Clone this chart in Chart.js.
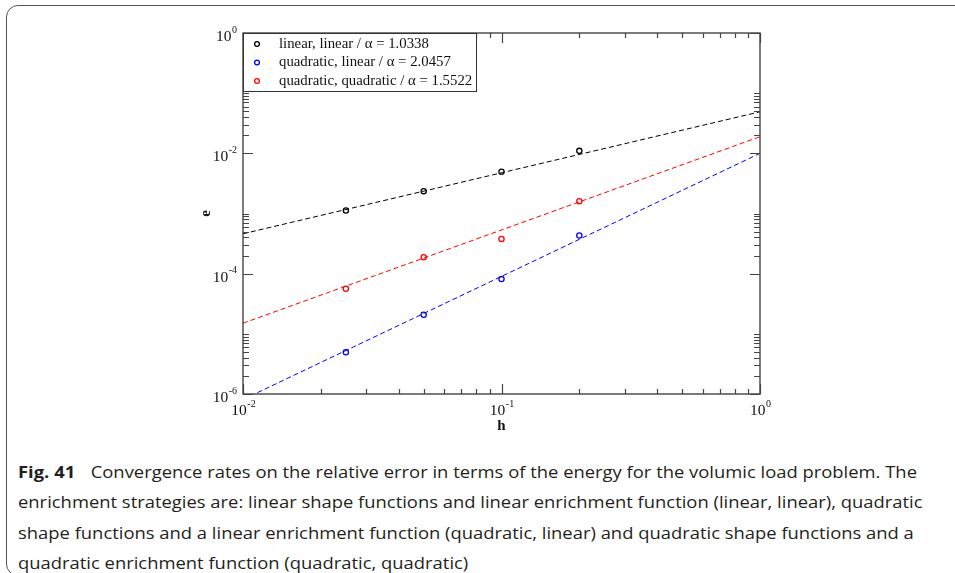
<!DOCTYPE html>
<html><head><meta charset="utf-8">
<script src="https://cdn.jsdelivr.net/npm/chart.js@4.4.0/dist/chart.umd.min.js"></script>
<style>
html,body{margin:0;padding:0;background:#fff;width:955px;height:573px;overflow:hidden;position:relative}
#frame{position:absolute;left:6px;top:5px;width:1000px;height:571px;border:1.5px solid #555;border-radius:12px;box-sizing:border-box}
#wrap{position:absolute;left:0;top:0;width:955px;height:450px}
#cap{position:absolute;left:18px;top:457px;font-family:'Open Sans',sans-serif;font-size:16.6px;line-height:30.3px;color:#231f20;white-space:nowrap}
#cap .ln{height:30.3px}
#cap .ln span{display:inline-block;transform-origin:0 50%}
#cap b{font-weight:700;margin-right:14px}
</style></head><body>
<div id="frame"></div>
<div id="wrap"><canvas id="c" width="955" height="450"></canvas></div>
<div id="cap">
<div class="ln"><span><b>Fig. 41</b>Convergence rates on the relative error in terms of the energy for the volumic load problem. The</span></div>
<div class="ln"><span>enrichment strategies are: linear shape functions and linear enrichment function (linear, linear), quadratic</span></div>
<div class="ln"><span>shape functions and a linear enrichment function (quadratic, linear) and quadratic shape functions and a</span></div>
<div class="ln"><span>quadratic enrichment function (quadratic, quadratic)</span></div>
</div>
<script>
// ---- data ----
const hValues = [0.025, 0.05, 0.1, 0.2];
const errLinLin = [1.12e-3, 2.35e-3, 4.93e-3, 1.10e-2];
const errQuadLin = [4.93e-6, 2.07e-5, 8.13e-5, 4.30e-4];
const errQuadQuad = [5.62e-5, 1.87e-4, 3.78e-4, 1.60e-3];
const fitH = [0.01, 1];
const fitLinLin = [4.6e-4, 4.9e-2];
const fitQuadLin = [8.1e-7, 1.0e-2];
const fitQuadQuad = [1.5e-5, 1.89e-2];
const seriesLabels = ['linear, linear / \u03b1 = 1.0338', 'quadratic, linear / \u03b1 = 2.0457', 'quadratic, quadratic / \u03b1 = 1.5522'];
const seriesColors = ['#000000', '#0000ff', '#ff0000'];
const xMajorTicks = [0.01, 0.1, 1];
const xMinorTicks = [0.02,0.03,0.04,0.05,0.06,0.07,0.08,0.09,0.2,0.3,0.4,0.5,0.6,0.7,0.8,0.9];
const xTickExponents = ['-2', '-1', '0'];
const yMajorTicks = [1e-6, 1e-4, 1e-2, 1];
const yMinorTicks = [2e-6,3e-6,4e-6,5e-6,6e-6,7e-6,8e-6,9e-6,1e-5,2e-4,3e-4,4e-4,5e-4,6e-4,7e-4,8e-4,9e-4,1e-3,2e-2,3e-2,4e-2,5e-2,6e-2,7e-2,8e-2,9e-2,1e-1];
const yTickExponents = ['-6', '-4', '-2', '0'];
const xTitle = 'h';
const yTitle = 'e';

function pts(xs, ys){ return xs.map((x,i)=>({x:x, y:ys[i]})); }

const serif = "'Liberation Serif', 'Times New Roman', serif";
const axisColor = '#444';

function drawPow(ctx, x, y, exp, align){
  ctx.font = '15.5px ' + serif;
  const w10 = ctx.measureText('10').width;
  ctx.font = '10px ' + serif;
  const we = ctx.measureText(exp).width;
  const total = w10 + we + 0.5;
  let sx = align === 'right' ? x - total : x - total/2;
  ctx.fillStyle = '#111';
  ctx.textAlign = 'left';
  ctx.textBaseline = 'middle';
  ctx.font = '15.5px ' + serif;
  ctx.fillText('10', sx, y);
  ctx.font = '10px ' + serif;
  ctx.fillText(exp, sx + w10 + 0.5, y - 7);
}

const axesPlugin = {
  id: 'axesPlugin',
  afterDraw(chart){
    const ctx = chart.ctx, a = chart.chartArea, xs = chart.scales.x, ys = chart.scales.y;
    ctx.save();
    ctx.strokeStyle = axisColor;
    ctx.lineWidth = 1.4;
    ctx.strokeRect(a.left, a.top, a.right - a.left, a.bottom - a.top);
    ctx.lineWidth = 1.2;
    ctx.beginPath();
    const tick = (v, len, isX) => {
      if (isX){
        const px = Math.round(xs.getPixelForValue(v)) + 0.5;
        ctx.moveTo(px, a.bottom); ctx.lineTo(px, a.bottom - len);
        ctx.moveTo(px, a.top); ctx.lineTo(px, a.top + len);
      } else {
        const py = Math.round(ys.getPixelForValue(v)) + 0.5;
        ctx.moveTo(a.left, py); ctx.lineTo(a.left + len, py);
        ctx.moveTo(a.right, py); ctx.lineTo(a.right - len, py);
      }
    };
    xMajorTicks.forEach(v => tick(v, 10, true));
    xMinorTicks.forEach(v => tick(v, 5, true));
    yMajorTicks.forEach(v => tick(v, 10, false));
    yMinorTicks.forEach(v => tick(v, 6, false));
    ctx.stroke();
    // tick labels
    xMajorTicks.forEach((v,i) => drawPow(ctx, xs.getPixelForValue(v) + 0.5, a.bottom + 17, xTickExponents[i], 'center'));
    yMajorTicks.forEach((v,i) => drawPow(ctx, a.left - 6, ys.getPixelForValue(v) + 4, yTickExponents[i], 'right'));
    // axis titles
    ctx.fillStyle = '#111';
    ctx.font = 'bold 15px ' + serif;
    ctx.textAlign = 'center';
    ctx.textBaseline = 'middle';
    ctx.fillText(xTitle, (a.left + a.right)/2, a.bottom + 32);
    ctx.save();
    ctx.translate(206, (a.top + a.bottom)/2);
    ctx.rotate(-Math.PI/2);
    ctx.fillText(yTitle, 0, 0);
    ctx.restore();
    // legend
    const lx = a.left + 0.5, ly = a.top + 0.5, lw = 233, lh = 58;
    ctx.fillStyle = '#fff';
    ctx.fillRect(lx, ly, lw, lh);
    ctx.strokeStyle = '#333';
    ctx.lineWidth = 1;
    ctx.strokeRect(lx, ly, lw, lh);
    ctx.font = '14.8px ' + serif;
    ctx.textAlign = 'left';
    ctx.textBaseline = 'middle';
    const ds = chart.data.datasets;
    for (let i = 0; i < 3; i++){
      const yy = a.top + 11 + i * 18.5;
      ctx.beginPath();
      ctx.strokeStyle = ds[i].borderColor;
      ctx.lineWidth = 1.3;
      ctx.arc(a.left + 14, yy, 2.4, 0, Math.PI*2);
      ctx.stroke();
      ctx.fillStyle = '#111';
      ctx.fillText(ds[i].label, a.left + 36, yy);
    }
    ctx.restore();
  }
};

new Chart(document.getElementById('c'), {
  type: 'scatter',
  data: {
    datasets: [
      {label: seriesLabels[0], data: pts(hValues, errLinLin), borderColor: seriesColors[0], backgroundColor: 'transparent', pointRadius: 2.6, borderWidth: 1.3, showLine: false},
      {label: seriesLabels[1], data: pts(hValues, errQuadLin), borderColor: seriesColors[1], backgroundColor: 'transparent', pointRadius: 2.6, borderWidth: 1.3, showLine: false},
      {label: seriesLabels[2], data: pts(hValues, errQuadQuad), borderColor: seriesColors[2], backgroundColor: 'transparent', pointRadius: 2.6, borderWidth: 1.3, showLine: false},
      {label: 'fit ' + seriesLabels[0], data: pts(fitH, fitLinLin), borderColor: seriesColors[0], borderWidth: 1, borderDash: [5,3], pointRadius: 0, showLine: true},
      {label: 'fit ' + seriesLabels[1], data: pts(fitH, fitQuadLin), borderColor: seriesColors[1], borderWidth: 1, borderDash: [5,3], pointRadius: 0, showLine: true},
      {label: 'fit ' + seriesLabels[2], data: pts(fitH, fitQuadQuad), borderColor: seriesColors[2], borderWidth: 1, borderDash: [5,3], pointRadius: 0, showLine: true}
    ]
  },
  options: {
    responsive: false,
    animation: false,
    devicePixelRatio: 1,
    layout: {padding: {left: 243, right: 195, top: 33, bottom: 56}},
    plugins: {legend: {display: false}, tooltip: {enabled: false}, title: {display: false}},
    scales: {
      x: {type: 'logarithmic', min: 0.01, max: 1, display: false},
      y: {type: 'logarithmic', min: 1e-6, max: 1, display: false}
    }
  },
  plugins: [axesPlugin]
});

// fit caption width to reference
(function(){
  const spans = document.querySelectorAll('#cap .ln span');
  const w = spans[0].getBoundingClientRect().width;
  const s = 899 / w;
  spans.forEach(sp => sp.style.transform = 'scaleX(' + s + ')');
})();
</script>
</body></html>
